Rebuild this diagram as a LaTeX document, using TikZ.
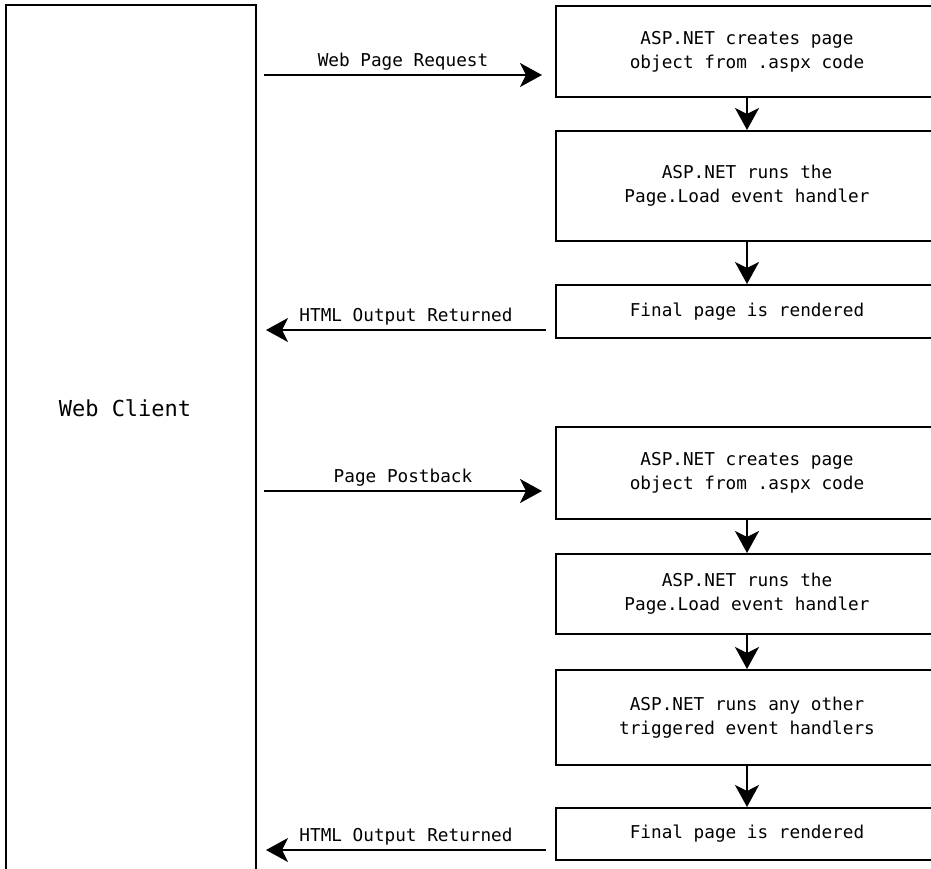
\documentclass[tikz,border=0pt]{standalone}
\usepackage{fontspec}
\setmonofont{DejaVu Sans Mono}
\usetikzlibrary{arrows.meta}
\begin{document}
\begin{tikzpicture}[x=0.5pt, y=-0.5pt,
  >={Stealth[length=11pt, width=12pt, inset=3pt]},
  stepbox/.style={draw, line width=1pt, minimum width=191pt, align=center,
    inner sep=0pt, font=\ttfamily\fontsize{8.85}{12}\selectfont},
  flow/.style={->, line width=1pt},
  msg/.style={above=2pt, inner sep=0pt, font=\ttfamily\fontsize{8.85}{12}\selectfont}]
  \useasboundingbox (0,0) rectangle (931,868);
  % client column
  \node[draw, line width=1pt, minimum width=125pt, minimum height=440pt, inner sep=0pt] (client) at (131,445) {};
  \node[font=\ttfamily\fontsize{11}{13}\selectfont] (clientname) at (125,408) {Web Client};
  % first request
  \node[stepbox, minimum height=45.5pt] (create1) at (747,51.5) {ASP.NET creates page\\object from .aspx code};
  \node[stepbox, minimum height=55pt] (load1) at (747,186) {ASP.NET runs the\\Page.Load event handler};
  \node[stepbox, minimum height=26.5pt] (render1) at (747,311.5) {Final page is rendered};
  % postback
  \node[stepbox, minimum height=46pt] (create2) at (747,473) {ASP.NET creates page\\object from .aspx code};
  \node[stepbox, minimum height=40pt] (load2) at (747,594) {ASP.NET runs the\\Page.Load event handler};
  \node[stepbox, minimum height=47.5pt] (other2) at (747,717.5) {ASP.NET runs any other\\triggered event handlers};
  \node[stepbox, minimum height=26pt] (render2) at (747,834) {Final page is rendered};
  \draw[flow] (create1) -- (load1);
  \draw[flow] (load1) -- (render1);
  \draw[flow] (create2) -- (load2);
  \draw[flow] (load2) -- (other2);
  \draw[flow] (other2) -- (render2);
  \draw[flow] ([xshift=3.5pt]client.east |- 0,75) -- ([xshift=-6.5pt]create1.west |- 0,75)
    node[midway, msg] {Web Page Request};
  \draw[flow] ([xshift=-4.5pt]render1.west |- 0,330) -- ([xshift=4.5pt]client.east |- 0,330)
    node[midway, msg] {HTML Output Returned};
  \draw[flow] ([xshift=3.5pt]client.east |- 0,491) -- ([xshift=-6.5pt]create2.west |- 0,491)
    node[midway, msg] {Page Postback};
  \draw[flow] ([xshift=-4.5pt]render2.west |- 0,850) -- ([xshift=4.5pt]client.east |- 0,850)
    node[midway, msg] {HTML Output Returned};
\end{tikzpicture}
\end{document}
